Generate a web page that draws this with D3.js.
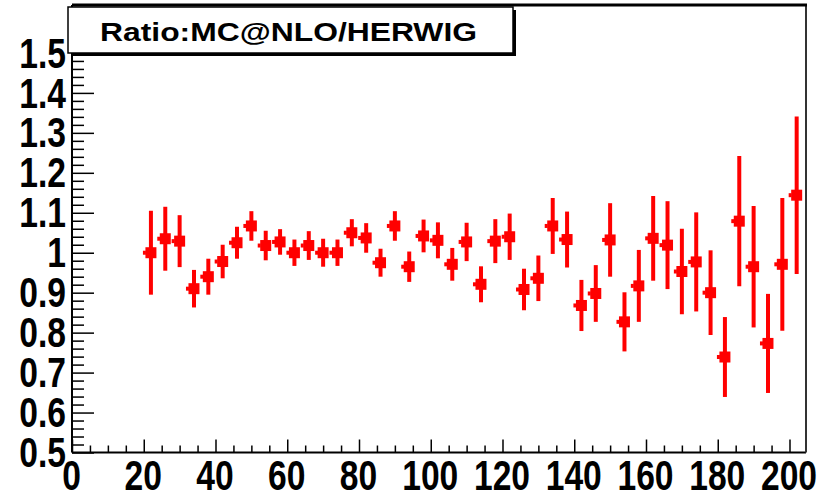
<!DOCTYPE html>
<html>
<head>
<meta charset="utf-8">
<script src="https://cdn.jsdelivr.net/npm/d3@7"></script>
<style>
  html, body { margin: 0; padding: 0; background: #fff; }
  svg { display: block; }
  .lbl { font-family: "Liberation Sans", Arial, Helvetica, sans-serif; font-weight: bold; }
</style>
</head>
<body>
<svg id="chart" width="820" height="498"></svg>
<script>
// Bin centres (x) of the ratio histogram
const binCenters = [22, 26, 30, 34, 38, 42, 46, 50, 54, 58, 62, 66, 70, 74, 78, 82, 86, 90, 94, 98,
  102, 106, 110, 114, 118, 122, 126, 130, 134, 138, 142, 146, 150, 154, 158, 162, 166, 170, 174, 178,
  182, 186, 190, 194, 198, 202];

// Ratio MC@NLO / HERWIG per bin
const ratioValues = [1.00, 1.035, 1.029, 0.91, 0.94, 0.978, 1.025, 1.067, 1.018, 1.027,
  1.0, 1.018, 1.0, 1.0, 1.05, 1.037, 0.975, 1.067, 0.965, 1.042,
  1.031, 0.971, 1.027, 0.921, 1.029, 1.04, 0.908, 0.936, 1.067, 1.033,
  0.868, 0.898, 1.032, 0.827, 0.917, 1.036, 1.019, 0.953, 0.977, 0.90,
  0.739, 1.079, 0.965, 0.773, 0.971, 1.144];

// Statistical uncertainty per bin
const ratioErrors = [0.105, 0.08, 0.065, 0.047, 0.045, 0.042, 0.04, 0.037, 0.037, 0.032,
  0.033, 0.036, 0.035, 0.033, 0.034, 0.037, 0.035, 0.037, 0.038, 0.041,
  0.045, 0.041, 0.048, 0.045, 0.055, 0.058, 0.052, 0.057, 0.07, 0.07,
  0.064, 0.071, 0.092, 0.074, 0.09, 0.106, 0.11, 0.107, 0.124, 0.106,
  0.10, 0.163, 0.152, 0.124, 0.166, 0.197];

// Axis tick labels
const xTickLabels = [0, 20, 40, 60, 80, 100, 120, 140, 160, 180, 200];
const yTickLabels = [0.5, 0.6, 0.7, 0.8, 0.9, 1.0, 1.1, 1.2, 1.3, 1.4, 1.5];
const titleText = "Ratio:MC@NLO/HERWIG";

const svg = d3.select("#chart");
svg.append("rect").attr("width", 820).attr("height", 498).attr("fill", "#fff");

const frame = { left: 72, right: 806, top: 5, bottom: 452.5 };
const x = d3.scaleLinear().domain([0, 204.6]).range([frame.left, frame.right]);
const y = d3.scaleLinear().domain([0.5, 1.62]).range([frame.bottom, frame.top]);

const labelSize = 42;
const labelSqueeze = 0.8;

// minor ticks
const xMinor = d3.range(0, 205, 5).filter(v => v % 20 !== 0);
const yMinor = d3.range(0, 51).map(i => +(0.5 + i * 0.02).toFixed(2)).filter(v => Math.round(v * 100) % 10 !== 0);

svg.append("g")
  .attr("transform", `translate(0,${frame.bottom})`)
  .call(d3.axisBottom(x).tickValues(xMinor).tickSizeInner(-7).tickSizeOuter(0).tickFormat(""))
  .call(g => g.select(".domain").remove())
  .call(g => g.selectAll("line").attr("stroke", "#000").attr("stroke-width", 1.5));

svg.append("g")
  .attr("transform", `translate(${frame.left},0)`)
  .call(d3.axisLeft(y).tickValues(yMinor).tickSizeInner(-12).tickSizeOuter(0).tickFormat(""))
  .call(g => g.select(".domain").remove())
  .call(g => g.selectAll("line").attr("stroke", "#000").attr("stroke-width", 1.5));

// major x axis
const xAxis = svg.append("g")
  .attr("transform", `translate(0,${frame.bottom})`)
  .call(d3.axisBottom(x).tickValues(xTickLabels).tickSizeInner(-13).tickSizeOuter(0)
    .tickFormat(d3.format("d")));
xAxis.select(".domain").remove();
xAxis.selectAll("line").attr("stroke", "#000").attr("stroke-width", 1.5);
xAxis.selectAll("text")
  .attr("class", "lbl").attr("fill", "#000")
  .attr("font-size", labelSize)
  .attr("y", 0).attr("dy", "0.72em")
  .attr("transform", `translate(-1,7) scale(${labelSqueeze},1)`);

// major y axis
const yAxis = svg.append("g")
  .attr("transform", `translate(${frame.left},0)`)
  .call(d3.axisLeft(y).tickValues(yTickLabels).tickSizeInner(-22).tickSizeOuter(0)
    .tickFormat(d => d === 1 ? "1" : d3.format(".1f")(d)));
yAxis.select(".domain").remove();
yAxis.selectAll("line").attr("stroke", "#000").attr("stroke-width", 1.5);
yAxis.selectAll("text")
  .attr("class", "lbl").attr("fill", "#000")
  .attr("font-size", labelSize)
  .attr("x", 0).attr("dy", "0.36em")
  .attr("transform", `translate(-6,-1) scale(${labelSqueeze},1)`);

// frame lines
svg.append("line").attr("x1", frame.left).attr("x2", frame.right)
  .attr("y1", frame.bottom).attr("y2", frame.bottom).attr("stroke", "#000").attr("stroke-width", 2);
svg.append("line").attr("x1", frame.left).attr("x2", frame.left)
  .attr("y1", frame.top).attr("y2", frame.bottom).attr("stroke", "#000").attr("stroke-width", 2);
svg.append("line").attr("x1", frame.right).attr("x2", frame.right)
  .attr("y1", frame.top).attr("y2", frame.bottom).attr("stroke", "#333").attr("stroke-width", 2);
svg.append("line").attr("x1", frame.left).attr("x2", frame.right + 1)
  .attr("y1", frame.top).attr("y2", frame.top).attr("stroke", "#000").attr("stroke-width", 3);

// data: error bars and square markers
const pts = binCenters.map((c, i) => ({ c, v: ratioValues[i], e: ratioErrors[i] }));
const marks = svg.append("g").attr("fill", "#ff0000").attr("stroke", "none");
marks.selectAll("line.err").data(pts).join("line")
  .attr("class", "err")
  .attr("x1", d => x(d.c)).attr("x2", d => x(d.c))
  .attr("y1", d => y(d.v - d.e)).attr("y2", d => y(d.v + d.e))
  .attr("stroke", "#ff0000").attr("stroke-width", 4);
marks.selectAll("rect.mk").data(pts).join("rect")
  .attr("class", "mk")
  .attr("x", d => x(d.c) - 5.5).attr("y", d => y(d.v) - 5.5)
  .attr("width", 11).attr("height", 11);
marks.selectAll("rect.mkh").data(pts).join("rect")
  .attr("class", "mkh")
  .attr("x", d => x(d.c) - 8).attr("y", d => y(d.v) - 2)
  .attr("width", 3).attr("height", 4);

// title pave with shadow
const box = { x: 68, y: 7, w: 445, h: 46 };
svg.append("rect").attr("x", box.x + 3).attr("y", box.y + 3).attr("width", box.w).attr("height", box.h)
  .attr("fill", "#000");
svg.append("rect").attr("x", box.x).attr("y", box.y).attr("width", box.w).attr("height", box.h)
  .attr("fill", "#fff").attr("stroke", "#000").attr("stroke-width", 1.5);
svg.append("text").attr("class", "lbl")
  .attr("x", 100).attr("y", 41)
  .attr("font-size", 26)
  .attr("textLength", 377).attr("lengthAdjust", "spacingAndGlyphs")
  .attr("fill", "#000")
  .text(titleText);
</script>
</body>
</html>
